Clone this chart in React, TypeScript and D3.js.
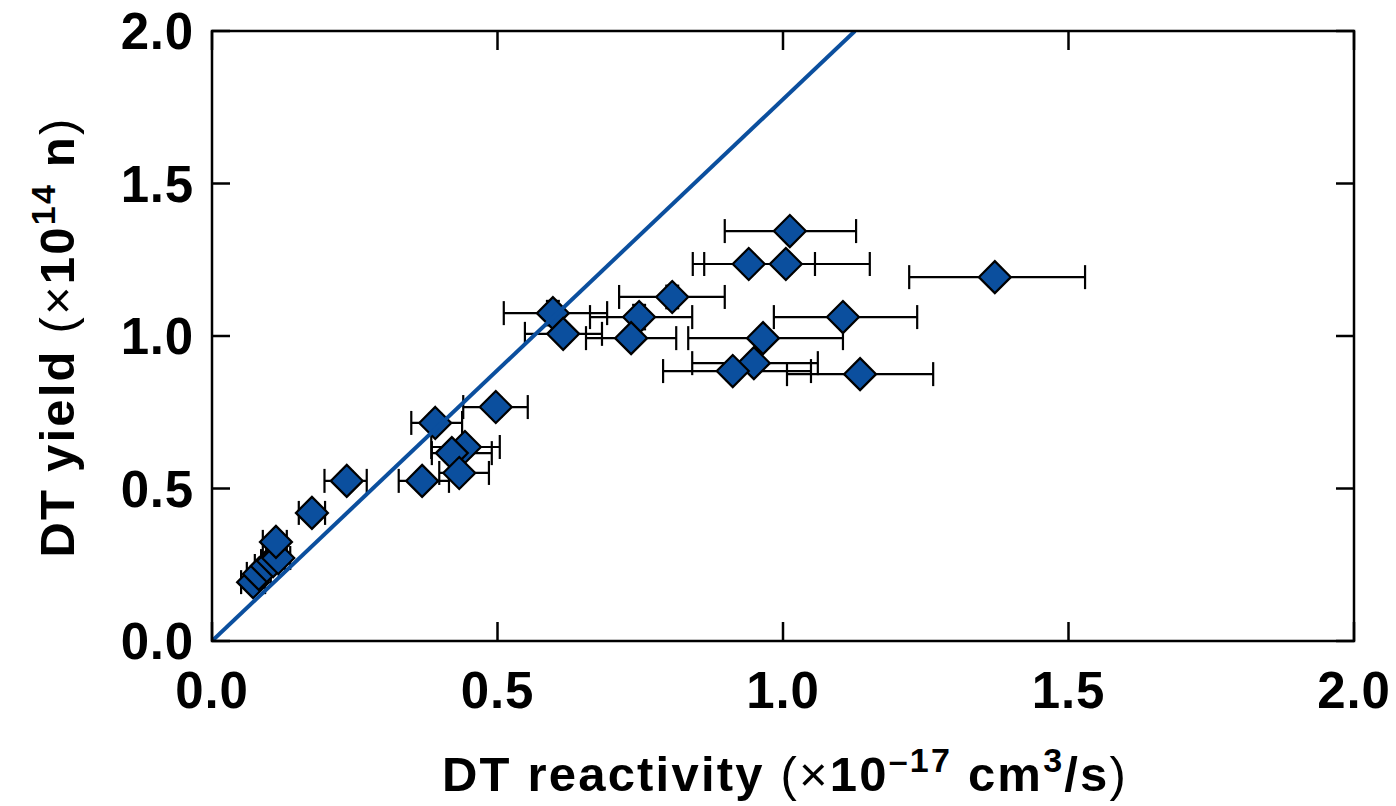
import React from "react";
import * as d3 from "d3";

// DT reactivity (x10^-17 cm3/s)
const reactivity = [0.072, 0.082, 0.096, 0.107, 0.116, 0.112, 0.175, 0.236, 0.368, 0.391, 0.497, 0.443, 0.420, 0.433, 0.597, 0.615, 0.748, 0.734, 0.806, 0.940, 1.005, 1.012, 1.105, 0.965, 0.949, 0.912, 1.135, 1.371];
// DT yield (x10^14 n)
const yieldVals = [0.193, 0.220, 0.246, 0.262, 0.272, 0.325, 0.420, 0.525, 0.525, 0.715, 0.767, 0.636, 0.616, 0.551, 1.075, 1.007, 1.062, 0.993, 1.128, 1.236, 1.236, 1.344, 1.062, 0.993, 0.911, 0.885, 0.875, 1.193];
// horizontal error bar ends
const reactivityLo = [0.051, 0.061, 0.075, 0.086, 0.095, 0.089, 0.152, 0.197, 0.327, 0.349, 0.440, 0.384, 0.385, 0.398, 0.511, 0.548, 0.662, 0.655, 0.713, 0.842, 0.862, 0.898, 0.984, 0.834, 0.841, 0.790, 1.007, 1.221];
const reactivityHi = [0.093, 0.103, 0.117, 0.128, 0.137, 0.131, 0.198, 0.271, 0.415, 0.438, 0.553, 0.504, 0.490, 0.485, 0.692, 0.683, 0.841, 0.813, 0.898, 1.056, 1.152, 1.128, 1.235, 1.105, 1.061, 1.049, 1.263, 1.529];
// vertical error (half width)
const yieldErr = [0.03, 0.03, 0.03, 0.03, 0.03, 0.03, 0.03, 0.03, 0.03, 0.03, 0.03, 0.03, 0.03, 0.03, 0.04, 0.03, 0.04, 0.03, 0.037, 0.03, 0.03, 0.03, 0.03, 0.03, 0.03, 0.03, 0.03, 0.03];
// model line
const lineX = [0, 1.126];
const lineY = [0, 2.0];

const xTicks = [0, 0.5, 1.0, 1.5, 2.0];
const yTicks = [0, 0.5, 1.0, 1.5, 2.0];

const W = 1396;
const H = 806;
const left = 212, right = 1354, top = 31, bottom = 641;
const FONT = "'Liberation Sans', Arial, Helvetica, sans-serif";
const BLUE = "#0b4f9e";

export default function App() {
  const x = d3.scaleLinear().domain([0, 2]).range([left, right]);
  const y = d3.scaleLinear().domain([0, 2]).range([bottom, top]);
  const line = d3.line<number>().x((_, i) => x(lineX[i])).y((_, i) => y(lineY[i]));
  const pts = reactivity.map((r, i) => ({ r, v: yieldVals[i], lo: reactivityLo[i], hi: reactivityHi[i], ye: yieldErr[i] }));
  const R = 16;
  const cap = 12;
  return (
    <svg width={W} height={H} style={{ position: "absolute", left: 0, top: 0, background: "#fff" }} fontFamily={FONT}>
      <defs>
        <clipPath id="plot">
          <rect x={left} y={top} width={right - left} height={bottom - top} />
        </clipPath>
      </defs>
      {/* error bars */}
      <g stroke="#000" strokeWidth={2.2} fill="none">
        {pts.map((p, i) => (
          <g key={i}>
            <line x1={x(p.lo)} x2={x(p.hi)} y1={y(p.v)} y2={y(p.v)} />
            <line x1={x(p.lo)} x2={x(p.lo)} y1={y(p.v) - cap} y2={y(p.v) + cap} />
            <line x1={x(p.hi)} x2={x(p.hi)} y1={y(p.v) - cap} y2={y(p.v) + cap} />
            <line x1={x(p.r) - 7} x2={x(p.r) + 7} y1={y(p.v + p.ye)} y2={y(p.v + p.ye)} />
            <line x1={x(p.r) - 7} x2={x(p.r) + 7} y1={y(p.v - p.ye)} y2={y(p.v - p.ye)} />
          </g>
        ))}
      </g>
      {/* diamonds */}
      <g fill={BLUE} stroke="#000" strokeWidth={2.2} strokeLinejoin="miter">
        {pts.map((p, i) => {
          const cx = x(p.r), cy = y(p.v);
          return <path key={i} d={`M${cx},${cy - R}L${cx + R},${cy}L${cx},${cy + R}L${cx - R},${cy}Z`} />;
        })}
      </g>
      {/* model line */}
      <path d={line(lineX) || ""} stroke={BLUE} strokeWidth={4} fill="none" clipPath="url(#plot)" />
      {/* frame */}
      <rect x={left} y={top} width={right - left} height={bottom - top} fill="none" stroke="#000" strokeWidth={2.5} />
      {/* ticks */}
      <g stroke="#000" strokeWidth={2.5}>
        {xTicks.map((t) => (
          <g key={"x" + t}>
            <line x1={x(t)} x2={x(t)} y1={bottom} y2={bottom - 19} />
            <line x1={x(t)} x2={x(t)} y1={top} y2={top + 19} />
          </g>
        ))}
        {yTicks.map((t) => (
          <g key={"y" + t}>
            <line x1={left} x2={left + 18} y1={y(t)} y2={y(t)} />
            <line x1={right} x2={right - 18} y1={y(t)} y2={y(t)} />
          </g>
        ))}
      </g>
      {/* tick labels */}
      <g fontSize={51} fontWeight="bold" fill="#000" letterSpacing={0.8}>
        {xTicks.map((t) => (
          <text key={"xl" + t} x={x(t)} y={708} textAnchor="middle">{t.toFixed(1)}</text>
        ))}
        {yTicks.map((t) => (
          <text key={"yl" + t} x={194} y={y(t) + 18} textAnchor="end">{t.toFixed(1)}</text>
        ))}
      </g>
      {/* axis titles */}
      <text x={785} y={791} textAnchor="middle" fontSize={49} fontWeight="bold" letterSpacing={2.2}>
        DT reactivity <tspan fontWeight="normal">(×</tspan>10<tspan dy={-19} fontSize={34}>–17</tspan><tspan dy={19}> cm</tspan><tspan dy={-19} fontSize={34}>3</tspan><tspan dy={19}>/s</tspan><tspan fontWeight="normal">)</tspan>
      </text>
      <text transform={`translate(74,337) rotate(-90)`} textAnchor="middle" fontSize={49} fontWeight="bold" letterSpacing={2.2}>
        DT yield <tspan fontWeight="normal">(×</tspan>10<tspan dy={-19} fontSize={34}>14</tspan><tspan dy={19}> n</tspan><tspan fontWeight="normal">)</tspan>
      </text>
    </svg>
  );
}
